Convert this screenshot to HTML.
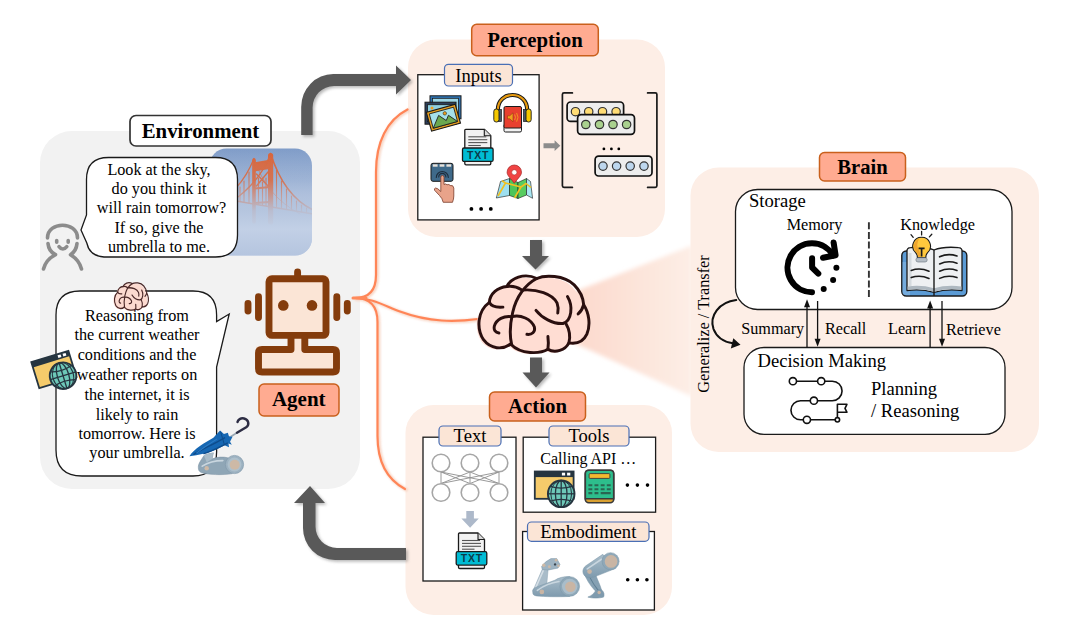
<!DOCTYPE html>
<html lang="en">
<head>
<meta charset="utf-8">
<title>LLM-based Agent Framework</title>
<style>
html,body{margin:0;padding:0;background:#fff;}
body{width:1080px;height:629px;overflow:hidden;position:relative;}
svg{position:absolute;left:0;top:0;display:block;}
text{font-family:"Liberation Serif","Times New Roman",serif;fill:#000;}
.b{font-weight:bold;}
.m{text-anchor:middle;}
.sans{font-family:"Liberation Sans",Arial,sans-serif;font-weight:bold;}
</style>
</head>
<body>
<svg width="1080" height="629" viewBox="0 0 1080 629">
<defs>
  <linearGradient id="cone" x1="0" y1="0" x2="1" y2="0">
    <stop offset="0" stop-color="#FCD9CC"/>
    <stop offset="1" stop-color="#FDEEE6"/>
  </linearGradient>
  <filter id="blur0" x="-10%" y="-10%" width="120%" height="120%"><feGaussianBlur stdDeviation="0.45"/></filter>
  <filter id="blur1s" x="-20%" y="-20%" width="140%" height="140%"><feGaussianBlur stdDeviation="1.5"/></filter>
  <filter id="blur1" x="-20%" y="-20%" width="140%" height="140%"><feGaussianBlur stdDeviation="1.2"/></filter>
  <filter id="blur3" x="-10%" y="-10%" width="120%" height="120%"><feGaussianBlur stdDeviation="2.2"/></filter>
  <filter id="blur2" x="-20%" y="-20%" width="140%" height="140%"><feGaussianBlur stdDeviation="2"/></filter>
  <linearGradient id="sky" x1="0" y1="0" x2="0" y2="1">
    <stop offset="0" stop-color="#7F9CC8"/>
    <stop offset="0.45" stop-color="#A9BCDA"/>
    <stop offset="1" stop-color="#C3D0E6"/>
  </linearGradient>
</defs>

<!-- ===== PANELS ===== -->
<g id="panels">
  <rect x="40" y="131" width="320" height="358" rx="32" fill="#F2F2F2"/>
  <rect x="408" y="39.5" width="257" height="197.5" rx="28" fill="#FDEEE6"/>
  <rect x="405.5" y="405" width="266.5" height="210" rx="28" fill="#FDEEE6"/>
  <polygon points="574,292 692,245.500 692,396.500 574,343" fill="url(#cone)" filter="url(#blur3)"/>
  <rect x="690.5" y="167.5" width="348.5" height="284.5" rx="28" fill="#FDEEE6"/>
</g>

<!-- ===== BIG ARROWS ===== -->
<g id="bigarrows" fill="#595959">
  <!-- shadows -->
  <g opacity="0.420" filter="url(#blur1s)" transform="translate(1.800,1.800)">
    <path d="M301.200,135 V107 A32,33 0 0 1 333.200,74 H396 V65.500 L411,80 L396,94.500 V86 H334 A21.400,21.400 0 0 0 312.600,107.400 V135 Z"/>
    <path d="M406,548 H337 A21.500,21.500 0 0 1 315.500,526.500 V503 H325 L310,486 L294,503 H303 V528 A32,32 0 0 0 335,560 H406 Z"/>
    <path d="M530,240 H542 V256 H549 L535.500,269.500 L522,256 H530 Z"/>
    <path d="M530,357.500 H542 V372.500 H549.500 L536,387.500 L522.500,372.500 H530 Z"/>
  </g>
  <path d="M301.200,135 V107 A32,33 0 0 1 333.200,74 H396 V65.500 L411,80 L396,94.500 V86 H334 A21.400,21.400 0 0 0 312.600,107.400 V135 Z"/>
  <path d="M406,548 H337 A21.500,21.500 0 0 1 315.500,526.500 V503 H325 L310,486 L294,503 H303 V528 A32,32 0 0 0 335,560 H406 Z"/>
  <path d="M530,240 H542 V256 H549 L535.500,269.500 L522,256 H530 Z"/>
  <path d="M530,357.500 H542 V372.500 H549.500 L536,387.500 L522.500,372.500 H530 Z"/>
</g>

<!-- ===== ORANGE CONNECTOR ===== -->
<g id="connector" fill="none" stroke-linecap="round">
  <g stroke="#F6CDB9" stroke-width="3.400" opacity="0.850" filter="url(#blur1)" transform="translate(1.200,0.800)">
    <path d="M355,298 C368,298 376,292 376,275 V172 C376,142 387,120 407.500,109.500"/>
    <path d="M355,298 C368,298 377.500,304 377.500,322 V436 C377.500,464 388,480 405,489"/>
    <path d="M355,298 C372,298 385,306 400,311.500 C430,322.500 455,322 478,319"/>
  </g>
  <g stroke="#FF8557" stroke-width="2.200">
    <path d="M355,298 C368,298 376,292 376,275 V172 C376,142 387,120 407.500,109.500"/>
    <path d="M355,298 C368,298 377.500,304 377.500,322 V436 C377.500,464 388,480 405,489"/>
    <path d="M355,298 C372,298 385,306 400,311.500 C430,322.500 455,322 478,319"/>
  </g>
  <path d="M353,298 H366" stroke="#FF8A5B" stroke-width="3" />
</g>

<!-- ===== LABELS ===== -->
<g id="labels">
  <rect x="130" y="115.500" width="141" height="30.500" rx="6" fill="#fff" stroke="#333" stroke-width="1.700"/>
  <text x="200.500" y="138" class="b m" font-size="20.800">Environment</text>

  <rect x="471.700" y="24.200" width="126.600" height="31.600" rx="5" fill="#FFAB91" stroke="#C9601C" stroke-width="1.500"/>
  <text x="535" y="47.200" class="b m" font-size="20.800">Perception</text>

  <rect x="489.500" y="392" width="96" height="29" rx="5" fill="#FFAB91" stroke="#C9601C" stroke-width="1.500"/>
  <text x="537.500" y="413.300" class="b m" font-size="20.800">Action</text>

  <rect x="819.500" y="152.500" width="86" height="28.500" rx="5" fill="#FFAB91" stroke="#C9601C" stroke-width="1.500"/>
  <text x="862.500" y="174" class="b m" font-size="20.600">Brain</text>

  <rect x="259" y="384" width="80" height="32" rx="5" fill="#FFAB91" stroke="#C9601C" stroke-width="1.500"/>
  <text x="298.800" y="405.500" class="b m" font-size="21">Agent</text>
</g>

<!-- ===== SYMBOLS ===== -->
<defs>
  <clipPath id="bridgeclip"><rect x="209.5" y="148.5" width="102.5" height="107" rx="17"/></clipPath>
  <linearGradient id="fog" x1="0" y1="0" x2="0" y2="1">
    <stop offset="0" stop-color="#B4C4DE" stop-opacity="0"/>
    <stop offset="0.3" stop-color="#B4C4DE" stop-opacity="0.15"/>
    <stop offset="0.58" stop-color="#B6C6DF" stop-opacity="0.9"/>
    <stop offset="0.75" stop-color="#C2D0E6" stop-opacity="1"/>
    <stop offset="1" stop-color="#B5C5DF" stop-opacity="1"/>
  </linearGradient>
  <g id="brainfill">
    <path d="M420,85 C470,62 590,62 655,125 C695,165 712,210 715,250 C748,300 760,375 735,435 C712,485 665,497 622,490 C600,535 535,558 490,530 C440,560 320,565 255,497 C205,535 130,530 85,470 C40,400 45,290 122,235 C125,180 175,140 232,135 C255,85 340,45 420,85 Z"/>
  </g>
  <g id="brainlines" fill="none" stroke-linecap="round" stroke-linejoin="round">
    <path d="M420,85 C470,62 590,62 655,125 C695,165 712,210 715,250 C748,300 760,375 735,435 C712,485 665,497 622,490 C600,535 535,558 490,530 C440,560 320,565 255,497 C205,535 130,530 85,470 C40,400 45,290 122,235 C125,180 175,140 232,135 C255,85 340,45 420,85 Z"/>
    <path d="M420,85 C350,120 290,200 268,300 C250,380 250,450 262,500"/>
    <path d="M122,235 C135,262 170,268 207,265"/>
    <path d="M232,135 C265,130 300,140 322,155"/>
    <path d="M262,325 C215,318 165,340 153,385 C148,410 160,425 182,428"/>
    <path d="M262,325 C320,310 385,340 405,390 C412,420 390,440 358,436"/>
    <path d="M328,158 C420,150 520,180 548,240 C556,262 556,285 552,302"/>
    <path d="M415,285 C450,330 520,372 585,368 C640,350 650,260 613,198"/>
    <path d="M715,250 C708,275 695,295 680,308"/>
    <path d="M603,368 C625,405 632,450 622,490"/>
    <path d="M490,450 C494,480 494,505 490,530"/>
  </g>
  <!-- browser + globe icon, 41x35 -->
  <g id="webicon">
    <rect x="0.900" y="0.900" width="38.800" height="27.300" fill="#F5CB6B" stroke="#263540" stroke-width="1.800"/>
    <rect x="0.900" y="0.900" width="38.800" height="5.600" fill="#263540"/>
    <rect x="28" y="2.100" width="3.200" height="2.800" fill="#fff"/>
    <rect x="33.200" y="2.100" width="3.200" height="2.800" fill="#fff"/>
    <circle cx="27.300" cy="23.200" r="13.300" fill="#6DC8B8" stroke="#263540" stroke-width="1.900"/>
    <g fill="none" stroke="#263540" stroke-width="1.300">
      <ellipse cx="27.300" cy="23.200" rx="5.800" ry="13.300"/>
      <ellipse cx="27.300" cy="23.200" rx="10.400" ry="13.300" stroke-width="1"/>
      <line x1="27.300" y1="9.900" x2="27.300" y2="36.500"/>
      <line x1="14" y1="23.200" x2="40.600" y2="23.200"/>
      <path d="M16.300,15.800 Q27.300,19.400 38.300,15.800"/>
      <path d="M16.300,30.600 Q27.300,27 38.300,30.600"/>
    </g>
  </g>
</defs>

<!-- ===== ENVIRONMENT CONTENT ===== -->
<g id="env">
  <!-- bridge photo -->
  <g clip-path="url(#bridgeclip)">
    <rect x="209" y="148" width="104" height="108" fill="url(#sky)"/>
    <g fill="none" stroke="#D9653A" stroke-linecap="round" filter="url(#blur0)">
      <!-- towers -->
      <path d="M254,160 V222" stroke-width="3.600"/>
      <path d="M270.600,155.500 V222" stroke-width="5.200"/>
      <path d="M255,163 L270,160.500 L270,168 L255,170.500 Z" fill="#D9653A" stroke-width="1.500"/>
      <path d="M256.500,174 L268,186 M268,172 L256.500,186" stroke-width="1.400"/>
      <path d="M255,188.500 L270,187 M255,203 L270,202" stroke-width="2"/>
      <!-- cables -->
      <path d="M270.600,153.500 Q284,196 313,210" stroke-width="1.500"/>
      <path d="M270.600,153.500 Q262,178 238,197" stroke-width="1.300"/>
      <path d="M254,158.500 Q247,176 236,188" stroke-width="1.300"/>
      <path d="M254,158.500 Q266,196 300,214" stroke-width="1" opacity="0.600"/>
      <!-- deck -->
      <path d="M236,201 L313,214" stroke-width="1.600"/>
      <!-- suspenders -->
      <g stroke-width="1.100" opacity="0.900">
        <path d="M276.500,170 V207 M281.500,181 V208 M286.500,189 V209 M291.500,196 V210 M296.500,201 V211 M301.500,205 V212 M306.500,208 V213"/>
        <path d="M249,172 V203 M244,181 V202 M240,187 V201"/>
        <path d="M258.500,178 V204 M262.500,182 V205 M266,178 V206"/>
      </g>
    </g>
    <rect x="209" y="148" width="104" height="108" fill="url(#fog)"/>
  </g>

  <!-- person icon -->
  <g fill="none" stroke="#8C8C8C" stroke-width="3.600" stroke-linecap="round" stroke-linejoin="round">
    <path d="M47.500,238 C47.500,221 77.500,221 77.500,238"/>
    <path d="M48,243.500 C48.500,249 51,252.500 55.500,254.700 C49,258 45,263 43.500,269"/>
    <path d="M77,243.500 C76.500,249 74,252.500 70.500,254.700 C76,258 80,263 81.500,269"/>
    <path d="M59,246.600 Q62.800,251.500 66.800,246.600"/>
    <path d="M56.700,240.500 V242.300 M68.200,240.500 V242.300"/>
  </g>

  <!-- speech bubble 1 -->
  <path d="M108.500,157.500 H215.500 Q237.500,157.500 237.500,179.500 V235 Q237.500,257 215.500,257 H104 Q89.500,256 86.800,243 L81,230 L86.500,215 V179.500 Q86.500,157.500 108.500,157.500 Z" fill="#fff" stroke="#1a1a1a" stroke-width="1.300"/>
  <g font-size="16.200" class="m">
    <text x="159" y="174.500" class="m">Look at the sky,</text>
    <text x="159" y="193.500" class="m">do you think it</text>
    <text x="161.500" y="213" class="m">will rain tomorrow?</text>
    <text x="159" y="232.500" class="m">If so, give the</text>
    <text x="159" y="252" class="m">umbrella to me.</text>
  </g>

  <!-- speech bubble 2 -->
  <path d="M80,291 H193 Q216.600,291 216.600,315 V321.600 L229.200,314 L216.600,367 V452 Q216.600,476 193,476 H82 Q56,476 56,450 V315 Q56,291 80,291 Z" fill="#fff" stroke="#1a1a1a" stroke-width="1.300"/>
  <g font-size="16.200">
    <text x="137" y="320.500" class="m">Reasoning from</text>
    <text x="137" y="340.100" class="m">the current weather</text>
    <text x="137" y="359.800" class="m">conditions and the</text>
    <text x="137" y="380" class="m">weather reports on</text>
    <text x="137" y="400.200" class="m">the internet, it is</text>
    <text x="137" y="420" class="m">likely to rain</text>
    <text x="137" y="438.600" class="m">tomorrow. Here is</text>
    <text x="137" y="458.200" class="m">your umbrella.</text>
  </g>

  <!-- small brain icon -->
  <g transform="translate(111.700,278.800) scale(0.0490,0.0570)">
    <use href="#brainfill" fill="#FCDAD0" transform="translate(-20,12)"/>
    <use href="#brainlines" stroke="#4A2828" stroke-width="23"/>
  </g>

  <!-- web icon rotated -->
  <g transform="translate(54.600,371.300) rotate(-17) translate(-20.500,-16.500)"><use href="#webicon"/></g>

  <!-- umbrella + robot hand -->
  <g id="umbrella" transform="translate(180,410) scale(0.11123)">
    <!-- arm -->
    <path d="M165,520 C160,480 200,440 215,410 L238,398 L300,385 L288,440 C330,420 400,420 430,430 L470,572 C380,588 250,582 190,562 C170,552 165,537 165,520 Z" fill="#8FA6B6" stroke="#7E95A6" stroke-width="5"/>
    <path d="M215,410 L238,398 L300,385 L288,440 L240,470 Z" fill="#A9BCC9"/>
    <circle cx="490" cy="490" r="82" fill="#9DB2C1" stroke="#8199AB" stroke-width="6"/>
    <circle cx="490" cy="490" r="62" fill="#AEC0CC"/>
    <circle cx="492" cy="492" r="45" fill="#CDB9A6"/>
    <path d="M200,505 C250,472 320,455 385,455" fill="none" stroke="#C9D6DF" stroke-width="15" stroke-linecap="round"/>
    <circle cx="240" cy="524" r="20" fill="#CDB9A6"/>
    <!-- umbrella -->
    <path d="M455,240 L512,204" stroke="#9AA8B4" stroke-width="15" fill="none"/>
    <path d="M512,204 L595,155 C628,130 616,86 576,76 C546,70 520,86 517,108" fill="none" stroke="#2D2D44" stroke-width="22" stroke-linecap="round"/>
    <path d="M85,415 C130,345 220,298 300,250 L360,185 L395,215 L430,205 L440,235 L472,240 L450,285 L466,312 L436,302 L441,336 L400,318 C340,352 260,398 85,415 Z" fill="#1667B3"/>
    <path d="M125,398 C200,350 300,310 400,250 M215,392 C290,368 350,335 425,298" fill="none" stroke="#0E4C8C" stroke-width="13" stroke-linecap="round"/>
    <path d="M365,195 L400,315" stroke="#0E4C8C" stroke-width="9" fill="none"/>
    <path d="M150,385 C210,340 270,300 330,262" fill="none" stroke="#2E7DC6" stroke-width="9" stroke-linecap="round"/>
  </g>

  <!-- robot agent -->
  <g id="robot">
    <rect x="266" y="275.500" width="63" height="63" fill="#FBE5D6"/>
    <rect x="256" y="346.500" width="83" height="28" fill="#FBE5D6"/>
    <rect x="291" y="336" width="14" height="14" fill="#FBE5D6"/>
    <g fill="none" stroke="#843C0C" stroke-width="6.900" stroke-linecap="round" stroke-linejoin="round">
      <rect x="269" y="278.700" width="57" height="56.700" rx="3"/>
      <path d="M297.600,272 V276"/>
      <path d="M258.500,296.800 V317.600 M248,303.400 V311 M336.800,296.800 V317.600 M347.300,303.400 V311"/>
      <path d="M291,338 V349.500 H262 Q258.500,349.500 258.500,353 V368.500 Q258.500,372 262,372 H333 Q336.500,372 336.500,368.500 V353 Q336.500,349.500 333,349.500 H304.800 V338"/>
    </g>
    <circle cx="283.300" cy="305.400" r="5.300" fill="#843C0C"/>
    <circle cx="312" cy="305.400" r="5.300" fill="#843C0C"/>
  </g>
</g>

<defs>
  <!-- TXT file icon, local box 0..32 x 0..37 -->
  <g id="txticon">
    <path d="M4,0.8 H22.500 L29,7.300 V35 Q29,36.300 27.700,36.300 H4.300 Q3,36.300 3,35 V2 Q3,0.800 4,0.800 Z" fill="#F2F2F2" stroke="#1a1a1a" stroke-width="1.300" stroke-linejoin="round"/>
    <path d="M22.500,0.800 V7.300 H29" fill="#DADADA" stroke="#1a1a1a" stroke-width="1.100" stroke-linejoin="round"/>
    <g stroke="#555" stroke-width="1.100">
      <line x1="6.500" y1="8.300" x2="24.500" y2="8.300"/>
      <line x1="6.500" y1="11.200" x2="25.500" y2="11.200"/>
      <line x1="6.500" y1="14.100" x2="25.500" y2="14.100"/>
      <line x1="6.500" y1="17" x2="19" y2="17"/>
    </g>
    <rect x="0.700" y="19.500" width="30.600" height="13.400" rx="1.500" fill="#00BCD4" stroke="#1a1a1a" stroke-width="1.300"/>
    <text x="16.400" y="30.300" class="sans m" font-size="10.500" style="fill:#0B3B4A" letter-spacing="0.800">TXT</text>
  </g>
  <!-- sub-label style -->
</defs>

<g id="perception">
  <!-- inputs box -->
  <rect x="417.800" y="74.700" width="121.300" height="145.200" fill="#fff" stroke="#1a1a1a" stroke-width="1.300"/>
  <rect x="444.500" y="64.300" width="68" height="21.700" rx="4" fill="#FBE5D6" stroke="#4A6FB5" stroke-width="1.200"/>
  <text x="478.500" y="82" class="m" font-size="18.600">Inputs</text>

  <!-- photos icon -->
  <g id="photos">
    <rect x="430" y="95.800" width="31" height="23" fill="#2E75B6" stroke="#1a1a1a" stroke-width="1"/>
    <rect x="432.500" y="98.300" width="26" height="18" fill="#9ED8E8" stroke="#1a1a1a" stroke-width="0.800"/>
    <rect x="425" y="102.200" width="31" height="22" fill="#2C3E5A" stroke="#1a1a1a" stroke-width="1"/>
    <rect x="427.500" y="104.700" width="26" height="17" fill="#8FD0E0" stroke="#1a1a1a" stroke-width="0.800"/>
    <circle cx="432" cy="108" r="1.500" fill="#F0A020"/>
    <g transform="translate(443.400,117.700) rotate(-15.500)">
      <rect x="-15" y="-9.800" width="30" height="19.600" fill="#E8A020" stroke="#1a1a1a" stroke-width="1.100"/>
      <rect x="-12.600" y="-7.400" width="25.200" height="14.800" fill="#A6E0EA" stroke="#1a1a1a" stroke-width="0.800"/>
      <path d="M-12.600,7.400 L-4,-3.500 L2,3.500 L5.500,-1 L12.600,7.400 Z" fill="#6BA84F" stroke="#1a1a1a" stroke-width="0.800" stroke-linejoin="round"/>
      <circle cx="2.500" cy="-3.800" r="1.700" fill="#F0A020" stroke="#1a1a1a" stroke-width="0.500"/>
    </g>
  </g>

  <!-- audio book with headphones -->
  <g id="audio">
    <path d="M497.800,110 C497.800,90 527.200,90 527.200,110" fill="none" stroke="#1a1a1a" stroke-width="4.200"/>
    <path d="M497.800,110 C497.800,90 527.200,90 527.200,110" fill="none" stroke="#E89B10" stroke-width="2.200"/>
    <rect x="504" y="124" width="17.500" height="8" rx="1.500" fill="#F2F2F2" stroke="#1a1a1a" stroke-width="1"/>
    <rect x="504" y="106.500" width="17.500" height="21.500" rx="1.500" fill="#E8402F" stroke="#1a1a1a" stroke-width="1"/>
    <path d="M507.500,115.800 H509.800 L513,112.800 V121.800 L509.800,118.800 H507.500 Z" fill="#F0A020" stroke="#8a2a10" stroke-width="0.500"/>
    <path d="M514.800,114.800 Q516.500,117.300 514.800,119.800 M516.800,113.300 Q519.500,117.300 516.800,121.300" fill="none" stroke="#F0A020" stroke-width="0.900" stroke-linecap="round"/>
    <rect x="498" y="109.500" width="3.500" height="12" fill="#4A5A68" stroke="#1a1a1a" stroke-width="0.700"/>
    <rect x="493.800" y="109" width="5.200" height="13" rx="2.400" fill="#F5C800" stroke="#1a1a1a" stroke-width="0.900"/>
    <rect x="523.500" y="109.500" width="3.500" height="12" fill="#4A5A68" stroke="#1a1a1a" stroke-width="0.700"/>
    <rect x="526" y="109" width="5.200" height="13" rx="2.400" fill="#F5C800" stroke="#1a1a1a" stroke-width="0.900"/>
  </g>

  <!-- txt icon -->
  <use href="#txticon" transform="translate(461.800,128.500)"/>

  <!-- touch icon -->
  <g id="touch">
    <rect x="431" y="163.300" width="22" height="18" rx="2" fill="#3F6A8A" stroke="#1a1a1a" stroke-width="1"/>
    <rect x="432.800" y="164.300" width="4.800" height="2.400" fill="#E8E2DA"/>
    <rect x="439.600" y="164.300" width="4.800" height="2.400" fill="#E8E2DA"/>
    <rect x="446.400" y="164.300" width="4.800" height="2.400" fill="#E8E2DA"/>
    <g fill="none" stroke="#1E2E3E" stroke-width="1.100" stroke-linecap="round">
      <path d="M438.700,177 A3.600,3.600 0 1 1 445.900,177"/>
      <path d="M436.300,177.500 A6,6 0 1 1 448.300,177.500"/>
    </g>
    <path d="M440.800,177.200 Q440.800,175.500 442.400,175.500 Q444,175.500 444,177.200 V184.500 Q446,183.200 447,184.800 Q449.200,183.800 450.200,185.500 Q453.400,184.800 453.800,188 V196 Q453.800,199 452.500,202.300 H443.200 Q442.500,198.500 439.500,195.500 L434.600,190.300 Q433.800,188.500 435.500,188 Q437.500,187.800 440.800,191.500 Z" fill="#E8A38A" stroke="#7a3b2a" stroke-width="0.800" stroke-linejoin="round"/>
  </g>

  <!-- map icon -->
  <g id="map">
    <path d="M496.300,198 L500.500,181.500 L509.500,178.500 L509.500,195.500 Z" fill="#9EE0F0" stroke="#1a1a1a" stroke-width="0.600" stroke-linejoin="round"/>
    <path d="M509.500,178.500 L518,182.500 L518,198.500 L509.500,195.500 Z" fill="#4CC65A" stroke="#1a1a1a" stroke-width="0.600" stroke-linejoin="round"/>
    <path d="M518,182.500 L526.500,178.500 L526.500,195 L518,198.500 Z" fill="#57CC60" stroke="#1a1a1a" stroke-width="0.600" stroke-linejoin="round"/>
    <path d="M526.500,178.500 L530.500,181.500 L532.600,198.300 L526.500,195 Z" fill="#A8E6F2" stroke="#1a1a1a" stroke-width="0.600" stroke-linejoin="round"/>
    <path d="M498,196 L505.500,183 L521,187 L514.500,198 M521,187 L526,183.500 L531,187.500 M505.500,183 L502,180.800" fill="none" stroke="#F0C020" stroke-width="1.600" stroke-linejoin="round"/>
    <path d="M514.300,183.300 C510,177.500 507.100,175.500 507.100,172.200 A7.200,7.200 0 1 1 521.500,172.200 C521.500,175.500 518.600,177.500 514.300,183.300 Z" fill="#F04444" stroke="#a02020" stroke-width="0.700"/>
    <circle cx="514.300" cy="172.300" r="2.600" fill="#fff" stroke="#a02020" stroke-width="0.500"/>
  </g>

  <!-- dots -->
  <circle cx="471.400" cy="208.900" r="1.900"/><circle cx="481.100" cy="208.900" r="1.900"/><circle cx="490.800" cy="208.900" r="1.900"/>

  <!-- small gray arrow -->
  <path d="M543.500,143.200 H554.600 V140.300 L560.300,145.700 L554.600,151.100 V148.200 H543.500 Z" fill="#8C8C8C"/>

  <!-- brackets -->
  <g fill="none" stroke="#1a1a1a" stroke-width="1.700" stroke-linejoin="round" stroke-linecap="round">
    <path d="M572.400,92.900 H564 Q562.400,92.900 562.400,94.500 V185.800 Q562.400,187.400 564,187.400 H572.400"/>
    <path d="M647.600,92.900 H655.300 Q656.900,92.900 656.900,94.500 V185.800 Q656.900,187.400 655.300,187.400 H647.600"/>
  </g>

  <!-- vector cards -->
  <g stroke="#111" stroke-width="1.700">
    <rect x="567.100" y="102" width="56.500" height="19.400" rx="3.500" fill="#EDEDED"/>
    <g fill="#FFDD75" stroke="#333" stroke-width="1.200"><circle cx="575.500" cy="111.700" r="4.200"/><circle cx="588.700" cy="111.700" r="4.200"/><circle cx="602.500" cy="111.700" r="4.200"/><circle cx="616.100" cy="111.700" r="4.200"/></g>
    <rect x="577.600" y="114.700" width="56.900" height="19.600" rx="3.500" fill="#EDEDED"/>
    <g fill="#A9D18E" stroke="#333" stroke-width="1.200"><circle cx="585.800" cy="124.500" r="4.200"/><circle cx="599.500" cy="124.500" r="4.200"/><circle cx="613" cy="124.500" r="4.200"/><circle cx="626.600" cy="124.500" r="4.200"/></g>
    <rect x="595.100" y="156.200" width="56.900" height="19.800" rx="3.500" fill="#EDEDED"/>
    <g fill="#BDD7EE" stroke="#333" stroke-width="1.200"><circle cx="603" cy="166.100" r="4.200"/><circle cx="616.600" cy="166.100" r="4.200"/><circle cx="630.200" cy="166.100" r="4.200"/><circle cx="644" cy="166.100" r="4.200"/></g>
  </g>
  <circle cx="603.900" cy="148.900" r="1.400"/><circle cx="611.400" cy="148.900" r="1.400"/><circle cx="618.800" cy="148.900" r="1.400"/>
</g>

<!-- ===== CENTER BRAIN ICON ===== -->
<g id="centerbrain" transform="translate(470,265) scale(0.159)">
  <use href="#brainfill" fill="#FFDDD3" transform="translate(-14,10)"/>
  <use href="#brainlines" stroke="#2A0F0F" stroke-width="18.500"/>
</g>

<defs>
  <g id="calcicon">
    <rect x="0.900" y="0.900" width="28.400" height="32.600" rx="3.500" fill="#D9A030" stroke="#3A3A3A" stroke-width="1.600"/>
    <path d="M0.900,29.500 V4.400 Q0.900,0.900 4.400,0.900 H25.800 Q29.300,0.900 29.300,4.400 V29.500 Z" fill="#2DBE8C" stroke="#3A3A3A" stroke-width="1.600"/>
    <rect x="4.700" y="4.300" width="20.800" height="4.800" rx="1" fill="#F5B82E" stroke="#3A3A3A" stroke-width="0.900"/>
    <g stroke="#2A6551" stroke-width="2.100">
      <path d="M4,15.900 H7.900 M10.100,15.900 H14 M16.300,15.900 H20.200 M22.400,15.900 H26.300"/>
      <path d="M4,19.900 H7.900 M10.100,19.900 H14 M16.300,19.900 H20.200 M22.400,19.900 H26.300"/>
      <path d="M4,23.800 H7.900 M10.100,23.800 H14 M16.300,23.800 H26.300"/>
    </g>
  </g>
  <linearGradient id="metal" x1="0" y1="0" x2="0" y2="1">
    <stop offset="0" stop-color="#A9BDCA"/><stop offset="1" stop-color="#7F9BAE"/>
  </linearGradient>
</defs>

<g id="action">
  <!-- Text box -->
  <rect x="423" y="437.200" width="93" height="143.800" fill="#fff" stroke="#1a1a1a" stroke-width="1.300"/>
  <rect x="439" y="426" width="62" height="20" rx="4" fill="#FBE5D6" stroke="#4A6FB5" stroke-width="1.200"/>
  <text x="470" y="442.300" class="m" font-size="18.600">Text</text>
  <!-- neural net -->
  <g fill="none" stroke="#A6A6A6">
    <g stroke-width="0.900" stroke="#8f8f8f">
      <path d="M441,472 L441,483.500 M441,472 L470,483.500 M441,472 L499,483.500"/>
      <path d="M470,472 L441,483.500 M470,472 L470,483.500 M470,472 L499,483.500"/>
      <path d="M499,472 L441,483.500 M499,472 L470,483.500 M499,472 L499,483.500"/>
    </g>
    <g stroke-width="1.600" fill="#fff">
      <circle cx="441" cy="463" r="8.800"/><circle cx="470" cy="463" r="8.800"/><circle cx="499" cy="463" r="8.800"/>
      <circle cx="441" cy="492.500" r="8.800"/><circle cx="470" cy="492.500" r="8.800"/><circle cx="499" cy="492.500" r="8.800"/>
    </g>
  </g>
  <path d="M466.300,511 H473.900 V518.500 H478.800 L470.100,527.700 L461.400,518.500 H466.300 Z" fill="#ADB9CA"/>
  <use href="#txticon" transform="translate(455.500,532.200)"/>

  <!-- Tools box -->
  <rect x="523.200" y="437.200" width="132.400" height="75" fill="#fff" stroke="#1a1a1a" stroke-width="1.300"/>
  <rect x="549" y="426" width="80" height="20" rx="4" fill="#FBE5D6" stroke="#4A6FB5" stroke-width="1.200"/>
  <text x="589" y="442.300" class="m" font-size="18.600">Tools</text>
  <text x="588.300" y="463.600" class="m" font-size="16">Calling API …</text>
  <use href="#webicon" transform="translate(533.900,470.600)"/>
  <use href="#calcicon" transform="translate(584.400,469.300)"/>
  <circle cx="627.400" cy="485.100" r="1.800"/><circle cx="637.400" cy="485.100" r="1.800"/><circle cx="647.500" cy="485.100" r="1.800"/>

  <!-- Embodiment box -->
  <rect x="522.600" y="531.500" width="131.800" height="78.500" fill="#fff" stroke="#1a1a1a" stroke-width="1.300"/>
  <rect x="527.500" y="522" width="121.500" height="19.300" rx="4" fill="#FBE5D6" stroke="#4A6FB5" stroke-width="1.200"/>
  <text x="588.300" y="538" class="m" font-size="18.600">Embodiment</text>

  <!-- robot arm -->
  <g id="rarm" transform="translate(525,545) scale(0.12963)">
    <path d="M62,352 L133,188 L178,192 L168,300 Z" fill="#A9BCC9" stroke="#8FA6B6" stroke-width="4"/>
    <path d="M80,335 L140,200" stroke="#D5DEE5" stroke-width="12" fill="none" stroke-linecap="round"/>
    <path d="M60,365 C55,340 70,330 100,320 L230,272 C260,252 300,242 345,244 L345,397 C250,401 150,399 90,393 C65,389 60,381 60,365 Z" fill="url(#metal)" stroke="#7A95A8" stroke-width="4"/>
    <path d="M95,350 C150,310 210,290 262,282" stroke="#C9D6DF" stroke-width="12" fill="none" stroke-linecap="round"/>
    <path d="M128,165 L160,130 L200,105 L245,105 L270,150 L255,178 L185,192 L133,188 Z" fill="#9FB4C2" stroke="#7A95A8" stroke-width="4" stroke-linejoin="round"/>
    <circle cx="145" cy="156" r="13" fill="#CDB9A6"/><circle cx="188" cy="168" r="11" fill="#CDB9A6"/>
    <circle cx="240" cy="117" r="10" fill="#CDB9A6"/><circle cx="258" cy="160" r="10" fill="#CDB9A6"/>
    <circle cx="232" cy="150" r="9" fill="#3a4650"/>
    <circle cx="345" cy="320" r="76" fill="#8FA8B8" stroke="#7A95A8" stroke-width="4"/>
    <circle cx="345" cy="320" r="60" fill="#A9BDCA"/>
    <circle cx="350" cy="322" r="41" fill="#C9B5A4"/>
    <circle cx="130" cy="362" r="18" fill="#C9B5A4"/>
  </g>
  <g id="rleg" transform="translate(525,545) scale(0.12963)">
    <path d="M455,215 C470,260 500,310 540,352 L590,345 C580,310 560,270 548,238 Z" fill="#86A1B3" stroke="#7A95A8" stroke-width="4"/>
    <path d="M495,240 C515,280 540,320 565,350" stroke="#5F7F94" stroke-width="8" fill="none"/>
    <path d="M600,72 L470,160 C435,185 440,235 480,250 C510,258 540,245 560,236 L700,180 Z" fill="url(#metal)" stroke="#7A95A8" stroke-width="4"/>
    <path d="M480,185 L590,110" stroke="#C9D6DF" stroke-width="12" fill="none" stroke-linecap="round"/>
    <circle cx="660" cy="125" r="66" fill="#8FA8B8" stroke="#7A95A8" stroke-width="4"/>
    <circle cx="664" cy="127" r="49" fill="#C9B5A4"/>
    <circle cx="498" cy="205" r="18" fill="#C9B5A4"/>
    <path d="M485,402 C510,392 530,378 545,352 L590,345 C610,360 614,385 606,402 C570,412 520,412 485,402 Z" fill="#7F9BAE" stroke="#6F8CA0" stroke-width="4"/>
    <circle cx="572" cy="366" r="13" fill="#C9B5A4"/>
  </g>
  <circle cx="627.700" cy="579.700" r="1.800"/><circle cx="637.400" cy="579.700" r="1.800"/><circle cx="646.900" cy="579.700" r="1.800"/>
</g>

<g id="brainpanel">
  <!-- storage box -->
  <rect x="735.500" y="189.500" width="276.500" height="120" rx="22" fill="#fff" stroke="#1a1a1a" stroke-width="1.300"/>
  <text x="749" y="207" font-size="18.600">Storage</text>
  <text x="786.700" y="230" font-size="16.200">Memory</text>
  <text x="900.300" y="230" font-size="16.200">Knowledge</text>

  <!-- memory icon -->
  <g fill="none" stroke="#000" stroke-width="6" stroke-linecap="round" stroke-linejoin="round">
    <path d="M812,292.300 A24.500,24.500 0 1 1 833.200,255.500"/>
    <path d="M833.600,242.500 L835.600,255.300 L823,257.800"/>
    <path d="M812.100,258.200 V267.500 L818.300,273.600"/>
  </g>
  <circle cx="836.400" cy="267.800" r="3"/><circle cx="833.100" cy="279.900" r="3"/><circle cx="823.700" cy="288.900" r="3"/>

  <!-- dashed divider -->
  <line x1="868.900" y1="222.200" x2="868.900" y2="297.300" stroke="#333" stroke-width="1.900" stroke-dasharray="7,2.700"/>

  <!-- book icon -->
  <g id="book">
    <rect x="901.800" y="251" width="65" height="45" rx="4.500" fill="#5B9BD5" stroke="#1a1a1a" stroke-width="1.400"/>
    <path d="M902.500,262 V292 Q902.500,295.300 906,295.300 H910 V262 Z" fill="#8DBBE6" opacity="0.500"/>
    <path d="M907,290.500 V251 Q907,247.800 910.500,247.600 Q925,246.300 934,250 Q943,246.300 958.500,247.600 Q962,247.800 962,251 V290.500 Q947,288.500 934,292.300 Q921,288.500 907,290.500 Z" fill="#EEF0F2" stroke="#1a1a1a" stroke-width="1.300" stroke-linejoin="round"/>
    <path d="M907.600,286.500 Q921,284.500 934,288.300 Q947,284.500 961.400,286.500 V290 Q947,288 934,291.700 Q921,288 907.600,290 Z" fill="#AEB8C0"/>
    <path d="M934,249.500 V296" stroke="#1a1a1a" stroke-width="1.400" fill="none"/>
    <path d="M910,253 V286" stroke="#D5DADE" stroke-width="3" fill="none"/>
    <g fill="none" stroke="#1a1a1a" stroke-width="1.600" stroke-linecap="round">
      <path d="M939.600,256.800 Q948,252.800 957,256"/>
      <path d="M939.600,264 Q948,260 957,263.200"/>
      <path d="M939.600,271.200 Q948,267.200 957,270.400"/>
      <path d="M939.600,278.400 Q948,274.400 957,277.600"/>
      <path d="M911.200,270.400 Q920,267.200 929,271.200"/>
      <path d="M911.200,277.600 Q920,274.400 929,278.400"/>
    </g>
    <!-- bulb -->
    <path d="M921.600,237.300 A8.800,8.800 0 0 1 927.600,252.600 Q925.800,254.500 925.800,257.500 H917.400 Q917.400,254.500 915.600,252.600 A8.800,8.800 0 0 1 921.600,237.300 Z" fill="#FFC83D" stroke="#1a1a1a" stroke-width="1.100"/>
    <path d="M919.500,238.500 A8,8 0 0 0 916.200,251.800 Q918,254 918.200,256.800 H920.500 Q920,252 918,248 Q916,243 919.500,238.500 Z" fill="#EFA52E"/>
    <path d="M918.600,248.300 H924.600 M921.600,248.300 V256.500" stroke="#1a1a1a" stroke-width="1.700" fill="none"/>
    <rect x="915.900" y="257.700" width="11.300" height="4.300" rx="2.100" fill="#B4BCC4" stroke="#6a747c" stroke-width="0.600"/>
    <path d="M911,234.700 L913.200,237.300 M921.600,231.500 V234.900 M931.800,234.300 L929.400,236.900" stroke="#1a1a1a" stroke-width="1.300" stroke-linecap="round" fill="none"/>
  </g>

  <!-- decision box -->
  <rect x="744" y="347.500" width="261" height="86.800" rx="20" fill="#fff" stroke="#1a1a1a" stroke-width="1.300"/>
  <text x="757.500" y="367.400" font-size="18.600">Decision Making</text>
  <text x="871" y="394.500" font-size="18.600">Planning</text>
  <text x="871" y="416.500" font-size="18.600">/ Reasoning</text>

  <!-- path icon -->
  <g fill="none" stroke="#111" stroke-width="1.600" stroke-linejoin="round">
    <path d="M792.900,381.200 H832.300 A9.750,9.750 0 0 1 832.300,400.700 H800.500 A9.550,9.550 0 0 0 800.500,419.800 H837.400 V404.300 H846.900 L845,408.300 L846.900,412.200 H837.400"/>
    <g fill="#fff">
      <circle cx="792.900" cy="381.200" r="3.600"/><circle cx="821.200" cy="381.200" r="3.600"/>
      <circle cx="813.900" cy="400.700" r="3.600"/><circle cx="806.900" cy="419.800" r="3.600"/>
      <circle cx="837.400" cy="419.800" r="2.200"/>
    </g>
  </g>

  <!-- thin arrows -->
  <g stroke="#111" stroke-width="1.300" fill="none">
    <line x1="807" y1="347.500" x2="807" y2="305"/>
    <line x1="817.600" y1="301" x2="817.600" y2="341"/>
    <line x1="930.100" y1="347.500" x2="930.100" y2="306"/>
    <line x1="942" y1="301" x2="942" y2="341"/>
  </g>
  <g fill="#111">
    <path d="M807,299.300 L810,307.300 H804 Z"/>
    <path d="M817.600,346.700 L814.600,338.700 H820.600 Z"/>
    <path d="M930.100,300.500 L933.100,308.500 H927.100 Z"/>
    <path d="M942,346.700 L939,338.700 H945 Z"/>
  </g>
  <text x="741.200" y="334" font-size="16.200">Summary</text>
  <text x="825" y="334" font-size="16.200">Recall</text>
  <text x="888" y="334" font-size="16.200">Learn</text>
  <text x="946" y="334.500" font-size="16.200">Retrieve</text>

  <!-- generalize / transfer -->
  <path d="M736.200,300 C719,302 709,316 713.500,329 C716.500,337 724,342 733,343.300" fill="none" stroke="#111" stroke-width="2.100" stroke-linecap="round"/>
  <path d="M740.500,344.700 L730.800,348.600 L733.300,338.200 Z" fill="#111"/>
  <text transform="translate(709.400,324) rotate(-90)" class="m" font-size="16.300">Generalize / Transfer</text>
</g>

</svg>
</body>
</html>
